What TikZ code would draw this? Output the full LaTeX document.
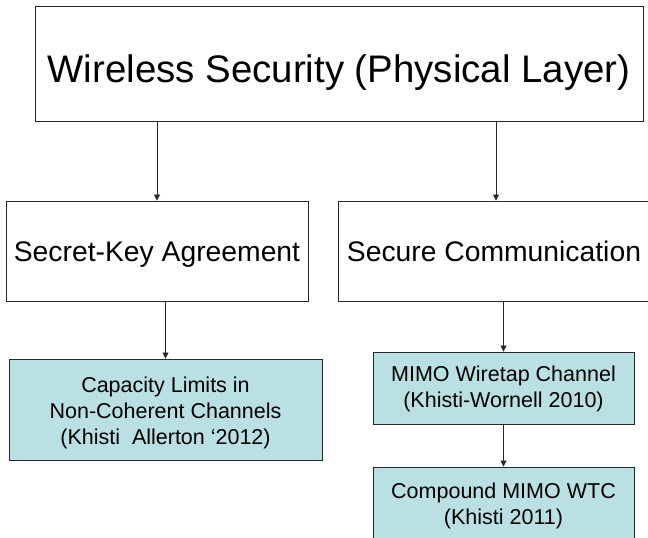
\documentclass[tikz,border=0pt]{standalone}
\usepackage{fontspec}
\setmainfont{Liberation Sans}
\usetikzlibrary{arrows.meta}
\definecolor{boxfill}{RGB}{187,224,227}
\definecolor{edge}{RGB}{40,40,40}
% centred multi-line text for the result boxes (lines 26pt apart)
\newcommand\stack[1]{\begin{tabular}[b]{@{}c@{}}#1\end{tabular}}
\tikzset{
  plainbox/.style={draw=edge, line width=0.9pt, fill=white, inner sep=0pt},
  leafbox/.style={draw=edge, line width=0.9pt, fill=boxfill, inner sep=0pt,
    font=\fontsize{21.5}{26}\selectfont},
  arr/.style={draw=edge, line width=0.8pt, -{Triangle[length=6pt,width=6pt]}}
}
\begin{document}
\begin{tikzpicture}[x=1pt, y=-1pt]
  \useasboundingbox (0,0) rectangle (648,538);

  % top level
  \node[plainbox, minimum width=608pt, minimum height=115pt,
        text height=38.5pt, text depth=0pt,
        font=\fontsize{38.4}{44}\selectfont] (top) at (339,63.5)
        {Wireless Security (Physical Layer)};

  % second level
  \node[plainbox, minimum width=302pt, minimum height=100pt,
        text height=20.5pt, text depth=0pt,
        font=\fontsize{28.3}{34}\selectfont] (sk) at (157,251)
        {Secret-Key Agreement};
  \node[plainbox, minimum width=312pt, minimum height=100pt,
        text height=20.5pt, text depth=0pt,
        font=\fontsize{28.3}{34}\selectfont] (sc) at (494,251)
        {Secure Communication};

  % results
  \node[leafbox, minimum width=313pt, minimum height=101pt,
        text height=74pt, text depth=4pt] (cap) at (165.5,409.5)
        {\stack{Capacity Limits in\\Non-Coherent Channels\\(Khisti\ \ Allerton `2012)}};
  \node[leafbox, minimum width=261pt, minimum height=72pt,
        text height=45pt, text depth=7pt] (mimo) at (503.5,388)
        {\stack{MIMO Wiretap Channel\\(Khisti-Wornell 2010)}};
  \node[leafbox, minimum width=261pt, minimum height=76pt,
        text height=45pt, text depth=7pt] (comp) at (503.5,505)
        {\stack{Compound MIMO WTC\\(Khisti 2011)}};

  % connectors
  \draw[arr] (sk.north |- top.south) -- (sk.north);
  \draw[arr] ([xshift=2pt]sc.north |- top.south) -- ([xshift=2pt]sc.north);
  \draw[arr] (cap.north |- sk.south) -- (cap.north);
  \draw[arr] (mimo.north |- sc.south) -- (mimo.north);
  \draw[arr] (mimo.south) -- (comp.north);
\end{tikzpicture}
\end{document}
